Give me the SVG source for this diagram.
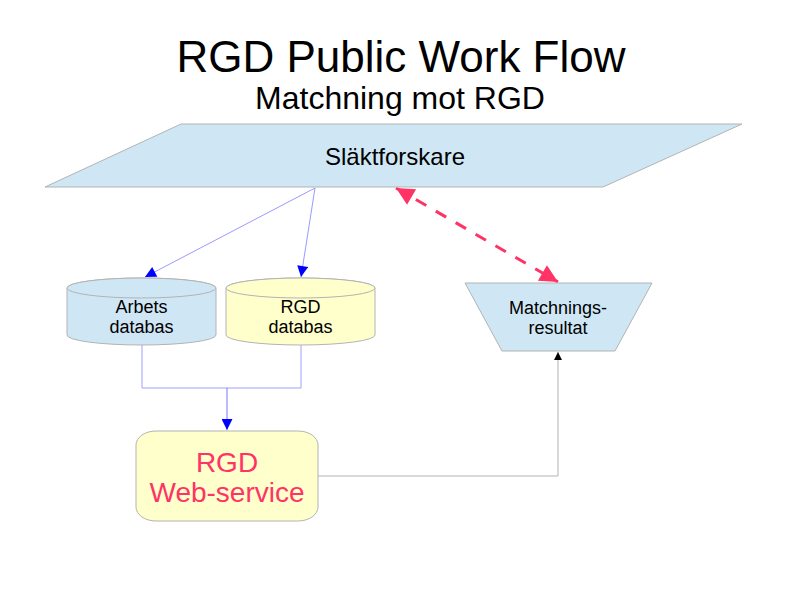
<svg xmlns="http://www.w3.org/2000/svg" width="794" height="595" viewBox="0 0 794 595">
<defs>
<style>
text{font-family:"Liberation Sans",Arial,sans-serif;text-anchor:middle}
.lbl{font-size:18px;fill:#000}
.shape{stroke:#b3b3b3;stroke-width:1}
.blue{fill:#cfe7f5}
.yellow{fill:#ffffcc}
</style>
<marker id="ab" viewBox="0 0 10 10" refX="10" refY="5" markerWidth="14" markerHeight="11" markerUnits="userSpaceOnUse" orient="auto"><path d="M0,0 L10,5 L0,10 z" fill="#0000ff"/></marker>
<marker id="ak" viewBox="0 0 10 10" refX="10" refY="5" markerWidth="10" markerHeight="8" markerUnits="userSpaceOnUse" orient="auto"><path d="M0,0 L10,5 L0,10 z" fill="#000"/></marker>
<marker id="ar" viewBox="0 0 10 10" refX="10" refY="5" markerWidth="22" markerHeight="18" markerUnits="userSpaceOnUse" orient="auto-start-reverse"><path d="M0,0 L10,5 L0,10 z" fill="#ff3366"/></marker>
</defs>
<rect width="794" height="595" fill="#fff"/>
<g id="title">
<text x="401" y="72" font-size="44">RGD Public Work Flow</text>
<text x="400" y="109" font-size="32">Matchning mot RGD</text>
</g>
<g id="connectors" fill="none">
<path d="M315,188 L145,277" stroke="#8080ff" stroke-width="0.8" marker-end="url(#ab)"/>
<path d="M315,188 L301,277" stroke="#8080ff" stroke-width="0.8" marker-end="url(#ab)"/>
<path d="M142,345 V388 H301 V345" stroke="#a0a0ff" stroke-width="1"/>
<path d="M227,388 V430" stroke="#7777ff" stroke-width="1" marker-end="url(#ab)"/>
<path d="M318,476 H558 V352" stroke="#b3b3b3" stroke-width="1" marker-end="url(#ak)"/>
<path d="M396,188 L558,282" stroke="#ff3366" stroke-width="3" stroke-dasharray="12,11" marker-start="url(#ar)" marker-end="url(#ar)"/>
</g>
<g id="slaktforskare">
<polygon class="shape blue" points="181,124 742,124 603,187 45,187"/>
<text x="395" y="165" font-size="24">Släktforskare</text>
</g>
<g id="arbets-databas">
<path class="shape blue" d="M67,288 V335 A74.5,10 0 0 0 216,335 V288 A74.5,10 0 0 0 67,288 Z"/>
<ellipse class="shape blue" cx="141.5" cy="288" rx="74.5" ry="10"/>
<text class="lbl" x="141.5" y="313">Arbets</text>
<text class="lbl" x="141.5" y="333">databas</text>
</g>
<g id="rgd-databas">
<path class="shape yellow" d="M226,288 V335 A74.5,10 0 0 0 375,335 V288 A74.5,10 0 0 0 226,288 Z"/>
<ellipse class="shape yellow" cx="300.5" cy="288" rx="74.5" ry="10"/>
<text class="lbl" x="300.5" y="313">RGD</text>
<text class="lbl" x="300.5" y="333">databas</text>
</g>
<g id="matchningsresultat">
<polygon class="shape blue" points="465,283 652,283 615,351 502,351"/>
<text class="lbl" x="558" y="314">Matchnings-</text>
<text class="lbl" x="558" y="334">resultat</text>
</g>
<g id="rgd-webservice">
<rect class="shape yellow" x="136" y="431" width="182" height="90" rx="20" ry="14"/>
<text x="227" y="472" font-size="28" fill="#ff3366">RGD</text>
<text x="227" y="502" font-size="28" fill="#ff3366">Web-service</text>
</g>
</svg>
